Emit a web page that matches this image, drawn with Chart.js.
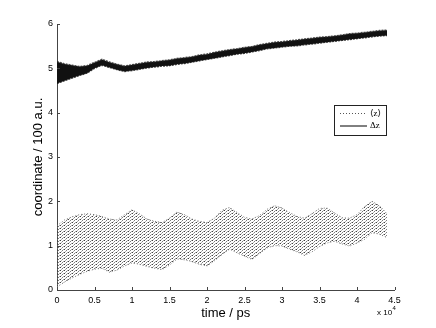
<!DOCTYPE html>
<html><head><meta charset="utf-8">
<script src="https://cdn.jsdelivr.net/npm/chart.js@4.4.0/dist/chart.umd.min.js"></script>
<style>html,body{margin:0;padding:0;background:#fff;overflow:hidden}canvas{display:block}</style>
</head><body>
<canvas id="c" width="436" height="328"></canvas>
<script>
// time in ps
const times = [0,1000,2000,3000,4000,5000,6000,7000,8000,9000,10000,11000,12000,13000,14000,15000,16000,17000,18000,19000,20000,21000,22000,23000,24000,25000,26000,27000,28000,29000,30000,31000,32000,33000,34000,35000,36000,37000,38000,39000,40000,41000,42000,43000,44000];
// <z> band (upper / lower edge of the fast oscillation), coordinate / 100 a.u.
const zUpper = [1.45,1.58,1.65,1.70,1.72,1.70,1.66,1.60,1.58,1.70,1.81,1.72,1.60,1.55,1.52,1.62,1.76,1.70,1.60,1.55,1.52,1.62,1.80,1.86,1.75,1.64,1.60,1.68,1.82,1.90,1.85,1.75,1.66,1.62,1.72,1.84,1.85,1.74,1.63,1.62,1.70,1.88,2.00,1.90,1.72];
const zLower = [0.07,0.18,0.27,0.35,0.42,0.47,0.49,0.40,0.45,0.54,0.61,0.58,0.53,0.49,0.46,0.56,0.70,0.68,0.64,0.58,0.54,0.66,0.80,0.92,0.84,0.76,0.69,0.82,0.95,1.00,0.99,0.92,0.86,0.78,0.86,0.98,1.06,1.10,1.04,0.99,1.06,1.14,1.29,1.26,1.18];
// Δz band
const dzUpper = [5.15,5.10,5.07,5.04,5.06,5.13,5.20,5.14,5.09,5.05,5.08,5.11,5.14,5.15,5.17,5.19,5.22,5.24,5.26,5.30,5.32,5.36,5.39,5.42,5.44,5.47,5.49,5.53,5.56,5.59,5.60,5.62,5.64,5.66,5.68,5.70,5.71,5.73,5.75,5.78,5.79,5.81,5.83,5.85,5.86];
const dzLower = [4.66,4.72,4.78,4.84,4.89,5.00,5.07,5.02,4.97,4.93,4.95,4.98,5.01,5.03,5.05,5.06,5.09,5.11,5.14,5.17,5.20,5.23,5.26,5.29,5.32,5.34,5.37,5.40,5.44,5.46,5.48,5.50,5.51,5.53,5.55,5.57,5.59,5.61,5.63,5.65,5.67,5.69,5.71,5.73,5.74];
const xTicks = [0,5000,10000,15000,20000,25000,30000,35000,40000,45000];
const yTicks = [0,1,2,3,4,5,6];
const seriesNames = ['\u27E8z\u27E9', '\u0394z'];
const xTitle = 'time / ps';
const yTitle = 'coordinate / 100 a.u.';
const xExponentBase = 'x 10';
const xExponent = '4';

const pts = arr => arr.map((v, i) => ({x: times[i], y: v}));

// speckle pattern for the dotted band
const pc = document.createElement('canvas'); pc.width = 4; pc.height = 3;
const pctx = pc.getContext('2d');
pctx.fillStyle = 'rgba(30,30,30,0.85)'; pctx.fillRect(0,0,1,1);
pctx.fillStyle = 'rgba(70,70,70,0.7)'; pctx.fillRect(2,1,1,1);
pctx.fillStyle = 'rgba(120,120,120,0.6)'; pctx.fillRect(1,2,1,1); pctx.fillRect(3,0,1,1);
const pattern = pctx.createPattern(pc, 'repeat');

const sans = "'Liberation Sans', Arial, Helvetica, sans-serif";
const serif = "'Liberation Serif', 'DejaVu Serif', serif";
const legendStyles = [{color: '#555', dash: [1, 2]}, {color: '#000', dash: []}];

const decor = {
  id: 'decor',
  afterDraw(chart) {
    const ctx = chart.ctx, xs = chart.scales.x, ys = chart.scales.y, a = chart.chartArea;
    ctx.save();
    // inward tick marks
    ctx.strokeStyle = '#444'; ctx.lineWidth = 1;
    ctx.beginPath();
    xTicks.forEach(v => { const p = Math.round(xs.getPixelForValue(v)) + 0.5; ctx.moveTo(p, a.bottom); ctx.lineTo(p, a.bottom - 3); });
    yTicks.forEach(v => { const p = Math.round(ys.getPixelForValue(v)) + 0.5; ctx.moveTo(a.left, p); ctx.lineTo(a.left + 3, p); });
    ctx.stroke();
    // axis titles
    ctx.fillStyle = '#000';
    ctx.font = '13px ' + sans;
    ctx.textAlign = 'center'; ctx.textBaseline = 'middle';
    ctx.fillText(xTitle, (a.left + a.right) / 2, 313);
    ctx.save();
    ctx.translate(38, (a.top + a.bottom) / 2);
    ctx.rotate(-Math.PI / 2);
    ctx.fillText(yTitle, 0, 0);
    ctx.restore();
    // exponent
    ctx.font = '8px ' + sans; ctx.textAlign = 'left'; ctx.textBaseline = 'alphabetic';
    const ex = 377;
    ctx.fillText(xExponentBase, ex, 315);
    const w = ctx.measureText(xExponentBase).width;
    ctx.font = '6px ' + sans;
    ctx.fillText(xExponent, ex + w + 0.5, 310);
    // legend
    const lx = 334.5, ly = 105.5, lw = 52, lh = 30;
    ctx.fillStyle = '#fff'; ctx.fillRect(lx, ly, lw, lh);
    ctx.strokeStyle = '#222'; ctx.lineWidth = 1; ctx.strokeRect(lx, ly, lw, lh);
    seriesNames.forEach((name, i) => {
      const y = 113.5 + i * 12.5;
      ctx.beginPath();
      ctx.strokeStyle = legendStyles[i].color; ctx.lineWidth = 1;
      ctx.setLineDash(legendStyles[i].dash);
      ctx.moveTo(340, y); ctx.lineTo(367, y); ctx.stroke();
      ctx.setLineDash([]);
      ctx.fillStyle = '#000'; ctx.font = '9px ' + serif;
      ctx.textAlign = 'left'; ctx.textBaseline = 'middle';
      ctx.fillText(name, 370, y);
    });
    ctx.restore();
  }
};

new Chart(document.getElementById('c'), {
  type: 'line',
  data: {
    datasets: [
      {label: seriesNames[0], data: pts(zUpper), borderColor: '#777', borderWidth: 1, borderDash: [1, 2], pointRadius: 0, fill: false},
      {label: seriesNames[0] + ' lower', data: pts(zLower), borderColor: '#777', borderWidth: 1, borderDash: [1, 2], pointRadius: 0, fill: '-1', backgroundColor: pattern},
      {label: seriesNames[1], data: pts(dzUpper), borderColor: 'rgba(40,40,40,0.8)', borderWidth: 1.6, borderDash: [2, 1], pointRadius: 0, fill: false},
      {label: seriesNames[1] + ' lower', data: pts(dzLower), borderColor: 'rgba(20,20,20,0.8)', borderWidth: 1.4, borderDash: [2, 1], pointRadius: 0, fill: '-1', backgroundColor: '#111'}
    ]
  },
  options: {
    responsive: false, animation: false,
    layout: {padding: {left: 0, right: 41.5, top: 24, bottom: 0}},
    plugins: {legend: {display: false}, tooltip: {enabled: false}},
    elements: {line: {tension: 0}},
    scales: {
      x: {
        type: 'linear', min: 0, max: 45000,
        afterBuildTicks: s => { s.ticks = xTicks.map(v => ({value: v})); },
        afterFit: s => { s.height = 38; },
        grid: {display: true, drawOnChartArea: false, drawTicks: false},
        border: {display: true, color: '#444', width: 1},
        ticks: {font: {size: 9, family: sans}, color: '#000', padding: 5, maxRotation: 0, autoSkip: false,
                callback: v => String(v / 10000)}
      },
      y: {
        type: 'linear', min: 0, max: 6,
        afterBuildTicks: s => { s.ticks = yTicks.map(v => ({value: v})); },
        afterFit: s => { s.width = 57; },
        grid: {display: true, drawOnChartArea: false, drawTicks: false},
        border: {display: true, color: '#444', width: 1},
        ticks: {font: {size: 9, family: sans}, color: '#000', padding: 4, callback: v => String(v)}
      }
    }
  },
  plugins: [decor]
});
</script>
</body></html>
